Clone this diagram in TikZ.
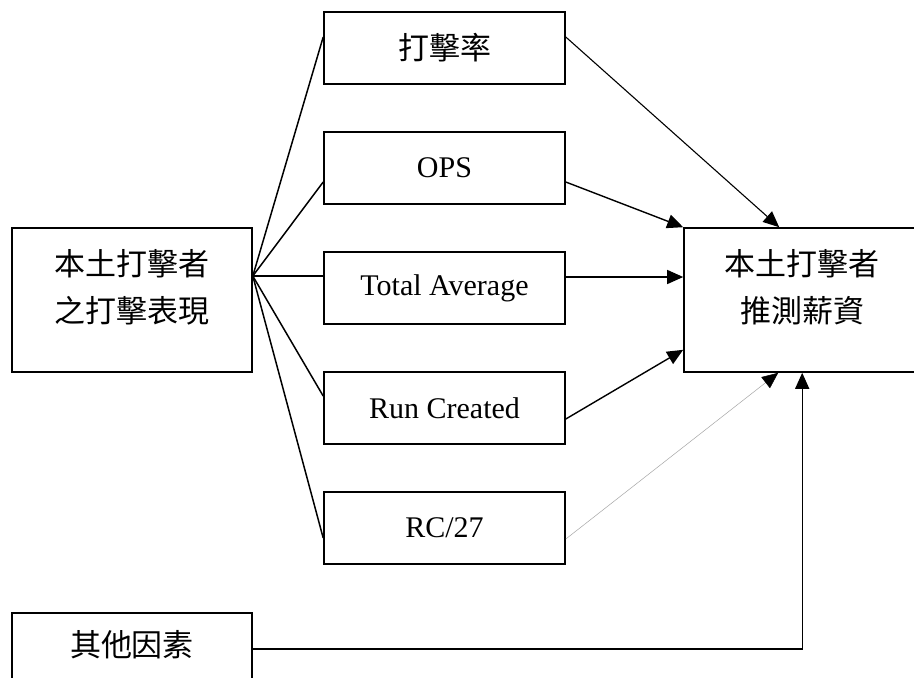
\documentclass[tikz,border=0pt]{standalone}
\usepackage{fontspec}
\setmainfont{Liberation Serif}
\newfontfamily\cjk{Noto Sans CJK TC}
\usetikzlibrary{arrows.meta,calc}
\begin{document}
\begin{tikzpicture}[x=1pt,y=-1pt,
  box/.style={draw, line width=1.6pt, inner sep=0pt},
  midbox/.style={box, minimum width=241pt, minimum height=72pt, font=\fontsize{30}{36}\selectfont},
  bigbox/.style={box, minimum width=240pt, minimum height=144pt},
  cjktext/.style={font=\cjk\fontsize{31}{47}\selectfont, align=center, inner sep=0pt},
  fan/.style={line width=1.5pt},
  arr/.style={line width=1.4pt, -{Triangle[length=16pt,width=14pt]}},
  thinarr/.style={line width=0.5pt, draw=gray!70, -{Triangle[length=16pt,width=14pt,color=black,fill=black]}}
]
\useasboundingbox (0,0) rectangle (914,678);
\clip (0,0) rectangle (914,678);
\fill[white] (0,0) rectangle (914,678);

% middle boxes
\node[midbox, font=\cjk\fontsize{31}{36}\selectfont] (bat) at (444.5,48) {打擊率};
\node[midbox] (ops) at (444.5,168) {OPS};
\node[midbox] (ta) at (444.5,288) {Total Average};
\node[midbox] (rc) at (444.5,408) {Run Created};
\node[midbox] (rc27) at (444.5,528) {RC/27};

% left box
\node[bigbox] (perf) at (132,300) {};
\node[cjktext] (perft) at (132,287) {本土打擊者\\之打擊表現};

% right box
\node[bigbox, minimum width=236pt] (sal) at (802,300) {};
\node[cjktext] (salt) at (802,287) {本土打擊者\\推測薪資};

% other factors
\node[bigbox, minimum height=72pt] (oth) at (132,649) {};
\node[cjktext] (otht) at (132,645) {其他因素};

% fan lines
\coordinate (fp) at ($(perf.east)+(0,-24)$);
\draw[fan] (fp) -- ($(bat.west)+(0,-11)$);
\draw[fan] (fp) -- ($(ops.west)+(0,14)$);
\draw[fan] (fp) -- ($(ta.west)+(0,-12)$);
\draw[fan] (fp) -- ($(rc.west)+(0,-12)$);
\draw[fan] (fp) -- ($(rc27.west)+(0,10)$);

% arrows to salary
\draw[arr, line width=1.1pt] ($(bat.east)+(0,-11)$) -- ($(sal.north west)+(96,0)$);
\draw[arr] ($(ops.east)+(0,14)$) -- (sal.north west);
\draw[arr] ($(ta.east)+(0,-11)$) -- ($(sal.west)+(0,-23)$);
\draw[arr] ($(rc.east)+(0,11)$) -- ($(sal.south west)+(0,-23)$);
\draw[thinarr] ($(rc27.east)+(0,11)$) -- ($(sal.south west)+(95,0)$);
\draw[arr] (oth.east) -| ($(sal.south west)+(119,0)$);
\end{tikzpicture}
\end{document}
